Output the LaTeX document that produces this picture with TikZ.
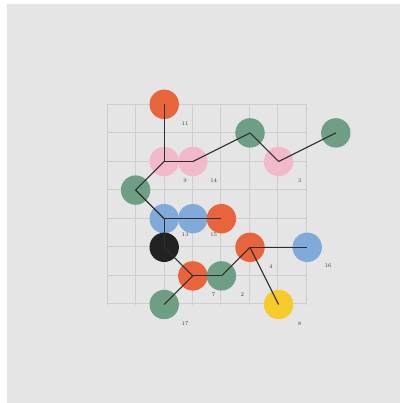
\documentclass[tikz,border=0pt]{standalone}
\definecolor{bg}{HTML}{E5E5E5}
\definecolor{gridc}{HTML}{CECECE}
\definecolor{corange}{HTML}{E8643C}
\definecolor{cpink}{HTML}{F2B9CA}
\definecolor{cgreen}{HTML}{6E9F85}
\definecolor{cblue}{HTML}{7FAADA}
\definecolor{cyellow}{HTML}{F7CB2A}
\definecolor{cblack}{HTML}{222222}
\definecolor{cedge}{HTML}{2E2E2E}
\tikzset{
  dot/.style={circle, minimum size=29.4pt, inner sep=0pt, draw=none},
  lab/.style={font=\fontsize{5.6}{6.5}\selectfont, text=black!75, inner sep=0pt},
  edge/.style={draw=cedge, line width=1.1pt},
}
\begin{document}
\begin{tikzpicture}[x=1pt,y=-1pt]
\useasboundingbox (0,0) rectangle (400,403);
\fill[white] (0,0) rectangle (400,403);
\fill[bg] (7,4) rectangle (400,403);
\begin{scope}[xshift=107pt, yshift=-104.3pt, x=28.6pt, y=-28.6pt]
  \draw[gridc, line width=0.8pt] (0,0) grid (7,7);
  % labels (drawn beneath the circles)
  \node[lab] (l11) at (2.73,0.66) {11};
  \node[lab] (l9)  at (2.73,2.66) {9};
  \node[lab] (l14) at (3.73,2.66) {14};
  \node[lab] (l3)  at (6.73,2.66) {3};
  \node[lab] (l13) at (2.73,4.55) {13};
  \node[lab] (l15) at (3.73,4.55) {15};
  \node[lab] (l4)  at (5.73,5.66) {4};
  \node[lab] (l16) at (7.73,5.66) {16};
  \node[lab] (l7)  at (3.73,6.66) {7};
  \node[lab] (l2)  at (4.73,6.66) {2};
  \node[lab] (l17) at (2.73,7.66) {17};
  \node[lab] (l8)  at (6.73,7.66) {8};
  % circles
  \node[dot, fill=corange] (n11) at (2,0) {};
  \node[dot, fill=cpink]   (n9)  at (2,2) {};
  \node[dot, fill=cpink]   (n14) at (3,2) {};
  \node[dot, fill=cgreen]  (ga)  at (5,1) {};
  \node[dot, fill=cpink]   (n3)  at (6,2) {};
  \node[dot, fill=cgreen]  (gb)  at (8,1) {};
  \node[dot, fill=cgreen]  (gc)  at (1,3) {};
  \node[dot, fill=cblue]   (n13) at (2,4) {};
  \node[dot, fill=cblue]   (n15) at (3,4) {};
  \node[dot, fill=corange] (oa)  at (4,4) {};
  \node[dot, fill=cblack]  (bk)  at (2,5) {};
  \node[dot, fill=corange] (n4)  at (5,5) {};
  \node[dot, fill=cblue]   (n16) at (7,5) {};
  \node[dot, fill=corange] (n7)  at (3,6) {};
  \node[dot, fill=cgreen]  (n2)  at (4,6) {};
  \node[dot, fill=cgreen]  (n17) at (2,7) {};
  \node[dot, fill=cyellow] (n8)  at (6,7) {};
  % connectors
  \draw[edge] (n11.center) -- (n9.center);
  \draw[edge] (n9.center) -- (n14.center);
  \draw[edge] (n14.center) -- (ga.center);
  \draw[edge] (ga.center) -- (n3.center);
  \draw[edge] (n3.center) -- (gb.center);
  \draw[edge] (n9.center) -- (gc.center);
  \draw[edge] (gc.center) -- (n13.center);
  \draw[edge] (n13.center) -- (n15.center);
  \draw[edge] (n15.center) -- (oa.center);
  \draw[edge] (n13.center) -- (bk.center);
  \draw[edge] (bk.center) -- (n7.center);
  \draw[edge] (n7.center) -- (n2.center);
  \draw[edge] (n7.center) -- (n17.center);
  \draw[edge] (n2.center) -- (n4.center);
  \draw[edge] (n4.center) -- (n16.center);
  \draw[edge] (n4.center) -- (n8.center);
\end{scope}
\end{tikzpicture}
\end{document}
